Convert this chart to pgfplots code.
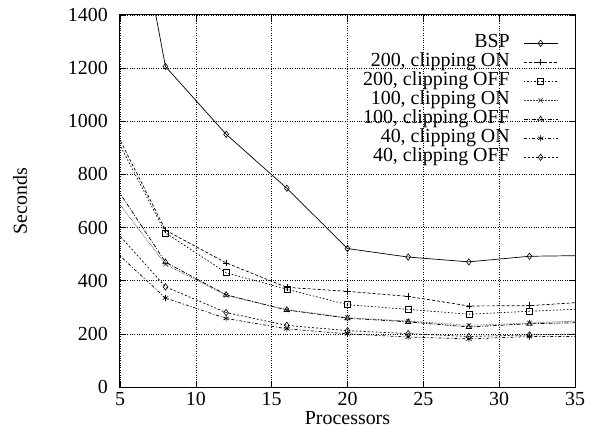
\documentclass[border=0pt]{standalone}
\usepackage{pgfplots}
\pgfplotsset{compat=1.18}
\usepackage{fontspec}
\setmainfont{Liberation Serif}

\begin{document}
\begin{tikzpicture}[font=\fontsize{20}{19.2}\selectfont]
\begin{axis}[
  name=ax,
  scale only axis,
  width=455bp, height=372bp,
  xmin=5, xmax=35, ymin=0, ymax=1400,
  xtick={5,10,...,35}, ytick={0,200,...,1400},
  /pgf/number format/assume math mode=true,
  /pgf/number format/1000 sep={},
  tick label style={font=\fontsize{20}{19.2}\selectfont},
  label style={font=\fontsize{20}{19.2}\selectfont},
  xticklabel style={inner sep=0pt, yshift=-5.5bp},
  yticklabel style={inner sep=0pt, xshift=-12bp},
  tick align=inside,
  major tick length=6bp,
  tick style={black, line width=0.5bp},
  axis line style={line width=1bp},
  grid=major,
  major grid style={dotted, black, line width=0.5bp},
  xlabel={Processors}, ylabel={Seconds},
  xlabel style={at={(axis description cs:0.5,0)}, anchor=base, yshift=-37bp},
  ylabel style={at={(axis description cs:0,0.5)}, anchor=center, yshift=100bp},
  clip marker paths=true,
  every axis plot/.append style={black, line width=0.7bp},
  mark options={solid, line width=0.6bp},
  legend style={draw=none, fill=none, at={(0.963,0.95)}, anchor=north east,
    font=\fontsize{20}{19.2}\selectfont,
    nodes={inner sep=0.5bp, text height=13bp, text depth=5bp},
    cells={anchor=east}, inner sep=0pt, row sep=0pt,
    /tikz/every odd column/.append style={column sep=13bp}},
  legend plot pos=right,
  legend image code/.code={\draw[mark repeat=2, mark phase=2] plot coordinates {(0bp,0bp) (17bp,0bp) (34bp,0bp)};},
]
% BSP
\addplot[solid, mark=diamond, mark size=3.2bp] coordinates {
  (4,2418) (8,1206) (12,951) (16,748) (20,521) (24,489) (28,471) (32,492) (36,495)};
\addlegendentry{BSP}
% 200, clipping ON
\addplot[dash pattern=on 3bp off 2bp, mark=+, mark size=3.2bp] coordinates {
  (4,1043) (8,590) (12,467) (16,375) (20,360) (24,341) (28,305) (32,306) (36,321)};
\addlegendentry{200, clipping ON}
% 200, clipping OFF
\addplot[dash pattern=on 1.5bp off 2bp, mark=square, mark size=3bp] coordinates {
  (4,1020) (8,580) (12,430) (16,368) (20,310) (24,292) (28,274) (32,285) (36,295)};
\addlegendentry{200, clipping OFF}
% 100, clipping ON
\addplot[dash pattern=on 0.6bp off 0.9bp, black!75, mark=x, mark size=3.2bp] coordinates {
  (4,761) (8,462) (12,345) (16,290) (20,261) (24,248) (28,232) (32,241) (36,250)};
\addlegendentry{100, clipping ON}
% 100, clipping OFF
\addplot[dash pattern=on 4bp off 1.5bp on 1bp off 1.5bp, mark=triangle, mark size=3.2bp] coordinates {
  (4,815) (8,470) (12,347) (16,290) (20,259) (24,245) (28,226) (32,238) (36,243)};
\addlegendentry{100, clipping OFF}
% 40, clipping ON
\addplot[dash pattern=on 3bp off 2bp on 1bp off 2bp, mark=asterisk, mark size=3.2bp] coordinates {
  (4,546) (8,335) (12,258) (16,219) (20,200) (24,188) (28,181) (32,190) (36,190)};
\addlegendentry{40, clipping ON}
% 40, clipping OFF
\addplot[dash pattern=on 2bp off 2bp, mark=diamond, mark size=3.2bp] coordinates {
  (4,632) (8,377) (12,280) (16,232) (20,212) (24,201) (28,190) (32,196) (36,200)};
\addlegendentry{40, clipping OFF}
\end{axis}
\pgfresetboundingbox
\path ([shift={(-120bp,-47bp)}]ax.south west) rectangle ([shift={(17bp,15bp)}]ax.north east);
\end{tikzpicture}
\end{document}
